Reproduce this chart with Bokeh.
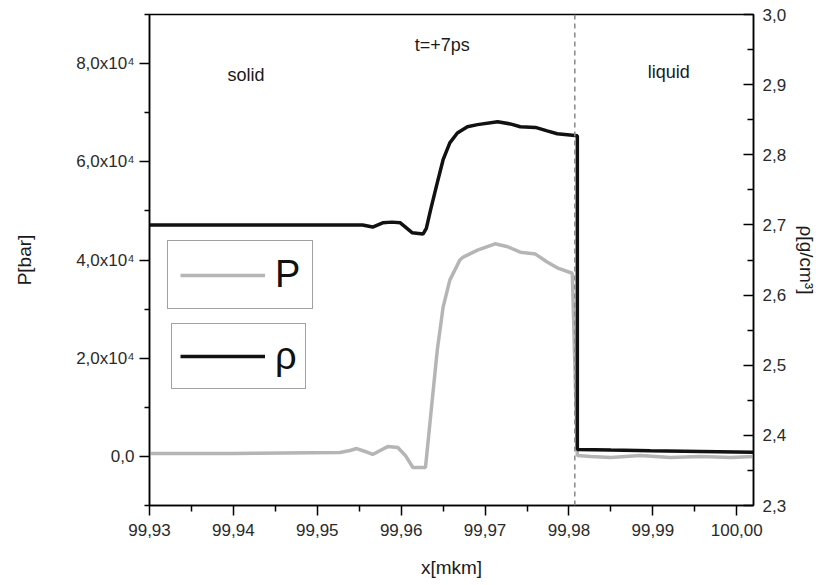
from bokeh.plotting import figure
from bokeh.models import (Range1d, LinearAxis, FixedTicker, CustomJSTickFormatter,
                          Span, Label, Legend, LegendItem)
from bokeh.embed import file_html
from bokeh.resources import INLINE

# ---- data ----
x_P = [99.9300, 99.9400, 99.9527, 99.9539, 99.9547, 99.9557, 99.9566, 99.9575, 99.9584,
       99.9596, 99.9605, 99.9614, 99.9629, 99.9635, 99.9643, 99.9650, 99.9658, 99.9670,
       99.9674, 99.9691, 99.9712, 99.9727, 99.9742, 99.9760, 99.9774, 99.9786, 99.9804,
       99.9810, 99.9826, 99.9850, 99.9885, 99.9921, 99.9957, 99.9993, 100.0020]
P_bar = [600, 600, 800, 1200, 1600, 1000, 400, 1200, 2000,
         1800, 200, -2250, -2250, 8000, 21600, 30400, 35900, 40000,
         40600, 42000, 43300, 42700, 41600, 41200, 39600, 38400, 37300,
         200, 0, -200, 200, -200, 0, -200, 0]

x_rho = [99.9300, 99.9400, 99.9539, 99.9554, 99.9566, 99.9578, 99.9589, 99.9599, 99.9613,
         99.9626, 99.9630, 99.9635, 99.9643, 99.9650, 99.9658, 99.9667, 99.9679, 99.9691,
         99.9715, 99.9730, 99.9742, 99.9760, 99.9774, 99.9786, 99.9810, 99.9810, 99.9850,
         99.9897, 99.9957, 100.0020]
rho = [2.700, 2.700, 2.700, 2.700, 2.697, 2.703, 2.704, 2.703, 2.689,
       2.687, 2.695, 2.721, 2.760, 2.793, 2.817, 2.831, 2.840, 2.843,
       2.847, 2.844, 2.840, 2.839, 2.834, 2.830, 2.827, 2.380, 2.379,
       2.378, 2.377, 2.376]

transition_x = 99.9807

x_ticks = [99.93, 99.94, 99.95, 99.96, 99.97, 99.98, 99.99, 100.00]
x_minor = [99.935, 99.945, 99.955, 99.965, 99.975, 99.985, 99.995]
P_ticks = [0, 20000, 40000, 60000, 80000]
P_minor = [-10000, 10000, 30000, 50000, 70000, 90000]
rho_ticks = [2.3, 2.4, 2.5, 2.6, 2.7, 2.8, 2.9, 3.0]
rho_minor = [2.35, 2.45, 2.55, 2.65, 2.75, 2.85, 2.95]

region_labels = ["solid", "t=+7ps", "liquid"]
region_x = [99.9415, 99.9649, 99.9919]
region_P = [77700, 83800, 78300]

FONT = "Liberation Sans"

p = figure(width=820, height=580, output_backend="svg", toolbar_location=None,
           x_range=Range1d(99.93, 100.002), y_range=Range1d(-10000, 90000),
           min_border_left=149, min_border_right=62, min_border_top=14, min_border_bottom=75)
p.extra_y_ranges = {"rho": Range1d(2.3, 3.0)}
p.xgrid.visible = False
p.ygrid.visible = False
p.outline_line_color = "black"
p.outline_line_width = 1.5
p.background_fill_color = "white"
p.border_fill_color = "white"

def style_axis(ax):
    ax.axis_line_color = "black"
    ax.axis_line_width = 1.5
    ax.major_tick_line_color = "black"
    ax.minor_tick_line_color = "black"
    ax.major_tick_line_width = 1.5
    ax.minor_tick_line_width = 1.5
    ax.major_label_text_font = FONT
    ax.major_label_text_font_size = "17px"
    ax.major_label_text_color = "#2a2a2a"
    ax.axis_label_text_font = FONT
    ax.axis_label_text_font_size = "19px"
    ax.axis_label_text_font_style = "normal"
    ax.axis_label_text_color = "#1a1a1a"

# x axis
xa = p.xaxis[0]
style_axis(xa)
xa.ticker = FixedTicker(ticks=x_ticks, minor_ticks=x_minor)
xa.formatter = CustomJSTickFormatter(code="return tick.toFixed(2).replace('.', ',');")
xa.axis_label = "x[mkm]"
xa.major_tick_out = 10
xa.major_tick_in = 0
xa.minor_tick_out = 6
xa.minor_tick_in = 0
xa.major_label_standoff = 8
xa.axis_label_standoff = 18

# left axis
ya = p.yaxis[0]
style_axis(ya)
ya.ticker = FixedTicker(ticks=P_ticks, minor_ticks=P_minor)
ya.formatter = CustomJSTickFormatter(code="""
if (Math.abs(tick) < 1e-6) { return '0,0'; }
return (tick/1e4).toFixed(1).replace('.', ',') + 'x10\u2074';
""")
ya.axis_label = "P[bar]"
ya.major_tick_out = 10
ya.major_tick_in = 0
ya.minor_tick_out = 5
ya.minor_tick_in = 0
ya.major_label_standoff = 5
ya.axis_label_standoff = 38

# right axis
ra = LinearAxis(y_range_name="rho")
style_axis(ra)
ra.ticker = FixedTicker(ticks=rho_ticks, minor_ticks=rho_minor)
ra.formatter = CustomJSTickFormatter(code="return tick.toFixed(1).replace('.', ',');")
ra.axis_label = "\u03c1[g/cm\u00b3]"
ra.major_tick_out = 0
ra.major_tick_in = 10
ra.minor_tick_out = 0
ra.minor_tick_in = 6
ra.major_label_standoff = 9
ra.axis_label_standoff = 7
p.add_layout(ra, "right")

# transition line
p.add_layout(Span(location=transition_x, dimension="height", line_color="#888888",
                  line_width=1.5, line_dash="5 4"))

rP = p.line(x_P, P_bar, line_color="#b5b5b5", line_width=3.5)
rR = p.line(x_rho, rho, y_range_name="rho", line_color="#111111", line_width=3.5)

for t, xx, yy in zip(region_labels, region_x, region_P):
    p.add_layout(Label(x=xx, y=yy, text=t, text_align="center", text_baseline="middle",
                       text_font=FONT, text_font_size="18px", text_color="#1a1a1a"))

def make_legend(label, rend, loc, pad, lh):
    lg = Legend(items=[LegendItem(label=label, renderers=[rend])], location=loc,
                margin=0, padding=pad, spacing=0, glyph_width=85, glyph_height=20,
                label_standoff=10, label_height=lh,
                label_text_font=FONT, label_text_font_size="38px", label_text_color="#111111",
                label_text_baseline="middle",
                border_line_color="#444444", border_line_width=1.5,
                background_fill_color="white", background_fill_alpha=1.0)
    p.add_layout(lg)

make_legend("P", rP, (18, 196), 12, 36)
make_legend("\u03c1", rR, (22, 116), 8, 48)

open("out.html", "w").write(file_html(p, INLINE))
